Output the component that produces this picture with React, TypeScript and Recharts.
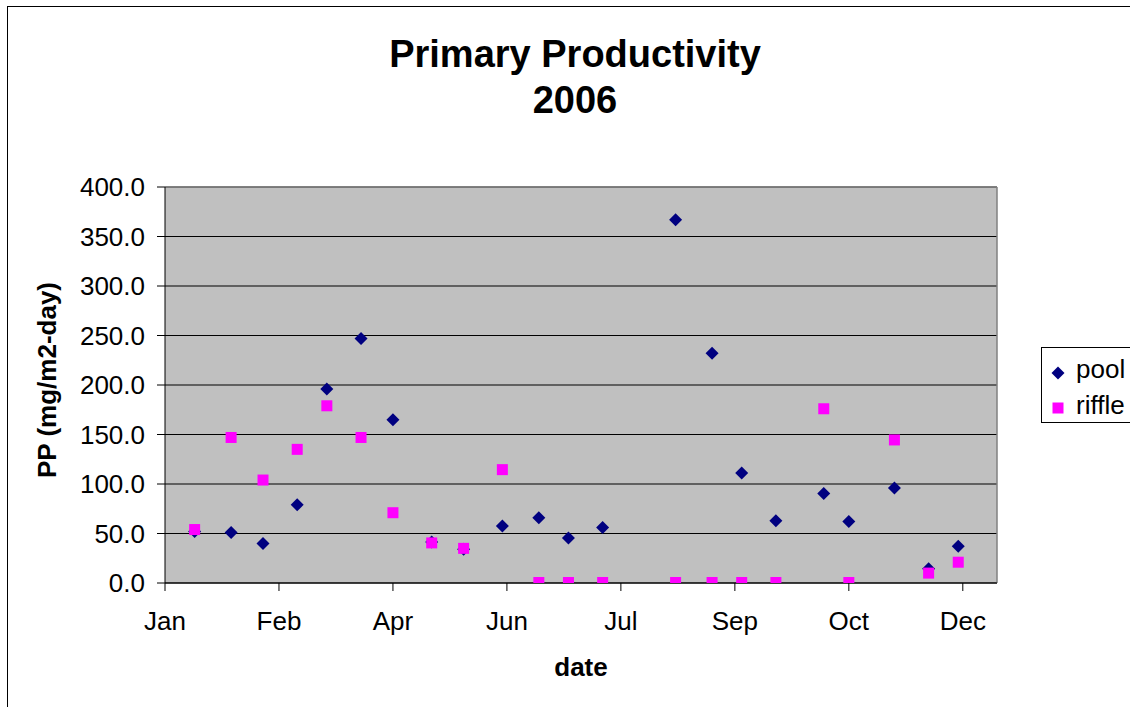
import { CartesianGrid, Label, ReferenceLine, Scatter, ScatterChart, XAxis, YAxis } from 'recharts'

// Sampling dates, as days from the axis start (early Jan 2006).
const DAYS = [13, 29, 43, 58, 71, 86, 100, 117, 131, 148, 164, 177, 192, 224, 240, 253, 268, 289, 300, 320, 335, 348]

// PP (mg/m2-day) per sample
const POOL = [52, 51, 40, 79, 196, 247, 165, 41.5, 34, 57.5, 66, 45.5, 56, 367, 232, 111, 63, 90.5, 62, 96, 14.5, 37]
const RIFFLE = [54, 147, 104, 135, 179, 147, 71, 40.5, 35, 114.5, 0.5, 0.5, 0.5, 0.5, 0.5, 0.5, 0.5, 176, 0.5, 144.5, 10, 21]

const X_TICKS = [0, 50, 100, 150, 200, 250, 300, 350]
const X_LABELS = ['Jan', 'Feb', 'Apr', 'Jun', 'Jul', 'Sep', 'Oct', 'Dec']
const Y_TICKS = [0, 50, 100, 150, 200, 250, 300, 350, 400]

const NAVY = '#000080'
const MAGENTA = '#FF00FF'
const FONT = '"Liberation Sans", Arial, sans-serif'

const poolData = DAYS.map((day, i) => ({ day, pp: POOL[i] }))
const riffleData = DAYS.map((day, i) => ({ day, pp: RIFFLE[i] }))

function Diamond({ cx, cy }: any) {
  const r = 6.5
  return <polygon points={`${cx},${cy - r} ${cx + r},${cy} ${cx},${cy + r} ${cx - r},${cy}`} fill={NAVY} />
}

function Square({ cx, cy }: any) {
  const h = 5.5
  return <rect x={cx - h} y={cy - h} width={h * 2} height={h * 2} fill={MAGENTA} />
}

export default function App() {
  return (
    <div style={{ position: 'absolute', left: 0, top: 0, width: 1130, height: 707, background: '#fff', overflow: 'hidden', fontFamily: FONT }}>
      <div style={{ position: 'absolute', left: 7, top: 6, width: 1140, height: 720, border: '1px solid #000' }} />
      <div style={{ position: 'absolute', left: 0, top: 31, width: 1150, textAlign: 'center', fontWeight: 'bold', fontSize: 38, lineHeight: '46px' }}>
        Primary Productivity
        <br />
        2006
      </div>
      <ScatterChart width={1130} height={707} margin={{ top: 187, right: 133, bottom: 34, left: 0 }} style={{ position: 'absolute', left: 0, top: 0 }}>
        <CartesianGrid horizontal vertical={false} stroke="#000" fill="#C0C0C0" fillOpacity={1} />
        <XAxis
          type="number"
          dataKey="day"
          domain={[0, 365]}
          ticks={X_TICKS}
          tickFormatter={(_v: number, i: number) => X_LABELS[i]}
          height={90}
          tickSize={8}
          tickMargin={21}
          stroke="#000"
          tick={{ fill: '#000', fontSize: 26, fontFamily: FONT }}
          allowDataOverflow
        >
          <Label
            content={({ viewBox }: any) => (
              <text x={viewBox.x + viewBox.width / 2} y={viewBox.y + 93} textAnchor="middle" fontWeight="bold" fontSize={26} fontFamily={FONT} fill="#000">
                date
              </text>
            )}
          />
        </XAxis>
        <YAxis
          type="number"
          dataKey="pp"
          domain={[0, 400]}
          ticks={Y_TICKS}
          tickFormatter={(v: number) => v.toFixed(1)}
          width={165}
          tickSize={8}
          tickMargin={12}
          stroke="#000"
          tick={{ fill: '#000', fontSize: 26, fontFamily: FONT }}
          allowDataOverflow
        >
          <Label
            content={({ viewBox }: any) => (
              <text
                x={viewBox.x + 56}
                y={viewBox.y + viewBox.height / 2 - 5}
                transform={`rotate(-90 ${viewBox.x + 56} ${viewBox.y + viewBox.height / 2 - 5})`}
                textAnchor="middle"
                fontWeight="bold"
                fontSize={26}
                fontFamily={FONT}
                fill="#000"
              >
                PP (mg/m2-day)
              </text>
            )}
          />
        </YAxis>
        <ReferenceLine y={400} stroke="#808080" strokeWidth={1.5} />
        <ReferenceLine x={365} stroke="#808080" strokeWidth={1.5} />
        <Scatter name="pool" data={poolData} shape={<Diamond />} isAnimationActive={false} />
        <Scatter name="riffle" data={riffleData} shape={<Square />} isAnimationActive={false} />
      </ScatterChart>
      <div style={{ position: 'absolute', left: 1041, top: 347, width: 120, height: 74, border: '1px solid #000', background: '#fff', fontSize: 26 }}>
        <svg width={14} height={14} style={{ position: 'absolute', left: 9, top: 18 }}>
          <polygon points="7,0.5 13.5,7 7,13.5 0.5,7" fill={NAVY} />
        </svg>
        <span style={{ position: 'absolute', left: 34, top: 6, lineHeight: '30px' }}>pool</span>
        <svg width={12} height={12} style={{ position: 'absolute', left: 10, top: 54 }}>
          <rect x={0.5} y={0.5} width={11} height={11} fill={MAGENTA} />
        </svg>
        <span style={{ position: 'absolute', left: 34, top: 42, lineHeight: '30px' }}>riffle</span>
      </div>
    </div>
  )
}
